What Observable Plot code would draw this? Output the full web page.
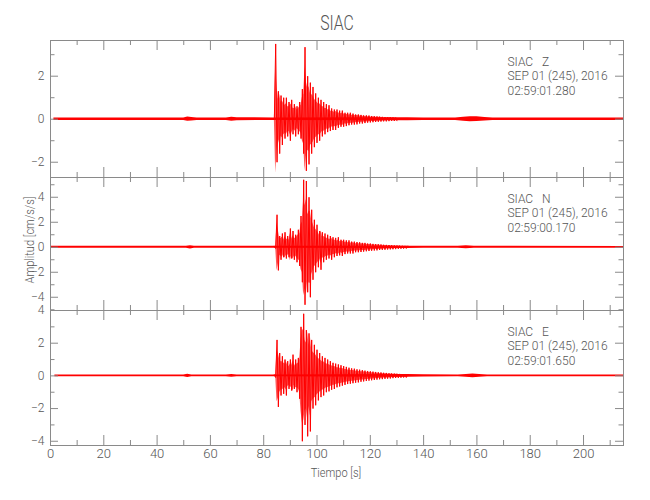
<!DOCTYPE html>
<html>
<head>
<meta charset="utf-8">
<script src="https://cdn.jsdelivr.net/npm/d3@7"></script>
<script src="https://cdn.jsdelivr.net/npm/@observablehq/plot@0.6"></script>
<style>
  body { margin: 0; background: #fff; }
  #chart { position: relative; width: 650px; height: 500px; overflow: hidden;
    font-family: Roboto, Lato, sans-serif; font-weight: 300; color: #555; }
  #chart svg { position: absolute; left: 0; top: 0; }
  .lbl { position: absolute; white-space: nowrap; color: #555; line-height: 1; }
</style>
</head>
<body>
<div id="chart"></div>
<script>
// ---------------- data ----------------
const title = "SIAC";
const xLabel = "Tiempo [s]";
const yLabel = "Amplitud [cm/s/s]";
const station = "SIAC";
const components = ["Z", "N", "E"];
const dateText = "SEP 01 (245), 2016";
const startTimes = ["02:59:01.280", "02:59:00.170", "02:59:01.650"];

const xMajorTicks = [0, 20, 40, 60, 80, 100, 120, 140, 160, 180, 200];
const xMinorTicks = [10, 30, 50, 70, 90, 110, 130, 150, 170, 190, 210];

const yMajorZ = [-2, 0, 2];
const yMinorZ = [-1, 1, 3];
const yMajorN = [-4, -2, 0, 2, 4];
const yMinorN = [-5, -3, -1, 1, 3, 5];
const yMajorE = [-4, -2, 0, 2, 4];
const yMinorE = [-3, -1, 1, 3];

// strong-motion part of each trace, sampled every 0.5 s from 84.0 s
const waveStart = 84.0;
const waveStep = 0.5;
const zWave = [0.06, 3.5, -2.0, 1.3, -1.6, 1.1, -1.2, 1.0, -0.9, 1.0, -0.8, 0.8, -1.0, 0.9, -0.7, 0.7, -0.8, 0.6, -0.7, 0.8,
  -0.9, 1.4, -1.6, 3.35, -2.4, 2.0, -2.1, 1.7, -1.6, 1.5, -1.3, 1.2, -1.1, 1.0, -1.0, 0.9, -0.8, 0.8, -0.7, 0.7,
  -0.6, 0.65, -0.55, 0.5, -0.5, 0.45, -0.5, 0.45, -0.4, 0.4, -0.35, 0.4, -0.35, 0.3, -0.32, 0.3, -0.28, 0.3, -0.25, 0.26,
  -0.25, 0.22, -0.24, 0.22, -0.2, 0.2, -0.2, 0.18, -0.18, 0.18, -0.16, 0.17, -0.15, 0.15, -0.14, 0.14, -0.13, 0.13, -0.12, 0.12,
  -0.11, 0.11, -0.1, 0.1, -0.1, 0.09, -0.09, 0.09, -0.08, 0.08, -0.08, 0.07, -0.07];
const nWave = [0.08, -0.1, 2.6, -1.85, 0.9, -1.0, 1.1, -0.8, 1.2, -0.9, 0.9, -0.8, 1.5, -0.9, 1.3, -1.0, 1.0, -1.2, 1.4, -1.5,
  2.5, -2.8, 5.4, -4.6, 5.3, -3.6, 4.0, -4.0, 3.0, -2.6, 2.2, -2.0, 1.8, -1.6, 1.3, -1.8, 1.2, -1.2, 1.1, -1.0,
  1.0, -0.9, 0.9, -1.0, 0.8, -0.8, 0.75, -0.7, 0.8, -0.65, 0.6, -0.7, 0.6, -0.55, 0.55, -0.5, 0.55, -0.5, 0.45, -0.5,
  0.45, -0.4, 0.42, -0.4, 0.4, -0.38, 0.35, -0.35, 0.35, -0.32, 0.3, -0.3, 0.3, -0.28, 0.27, -0.26, 0.25, -0.25, 0.24, -0.22,
  0.22, -0.21, 0.2, -0.2, 0.19, -0.18, 0.18, -0.17, 0.16, -0.16, 0.15, -0.15, 0.14, -0.13, 0.13, -0.12, 0.12, -0.11, 0.11, -0.1, 0.1];
const eWave = [0.06, -0.1, 2.2, -1.9, 1.4, -1.2, 1.2, -1.1, 1.0, -1.2, 0.9, -0.8, 1.0, -0.9, 1.3, -0.8, 1.0, -1.0, 1.1, -1.4,
  3.0, -4.0, 3.8, -3.0, 2.8, -3.7, 2.6, -3.4, 2.2, -2.0, 1.9, -1.8, 1.6, -1.5, 1.4, -1.3, 1.2, -1.2, 1.1, -1.0,
  1.0, -0.95, 0.9, -0.85, 0.8, -0.8, 0.75, -0.7, 0.7, -0.65, 0.65, -0.6, 0.6, -0.55, 0.55, -0.5, 0.5, -0.48, 0.46, -0.45,
  0.44, -0.42, 0.4, -0.4, 0.38, -0.36, 0.35, -0.34, 0.32, -0.31, 0.3, -0.29, 0.28, -0.27, 0.26, -0.25, 0.24, -0.23, 0.22, -0.21,
  0.21, -0.2, 0.19, -0.18, 0.18, -0.17, 0.16, -0.16, 0.15, -0.14, 0.14, -0.13, 0.13, -0.12, 0.12, -0.11, 0.11, -0.1, 0.1, -0.1, 0.09];

// background-noise envelope of each trace (time in s, half-amplitude)
const zNoiseT = [1.28, 50, 51.5, 53, 55, 66, 68, 70, 84, 134, 140, 152, 155, 157.5, 160, 163, 166, 215];
const zNoiseA = [0.06, 0.06, 0.1, 0.08, 0.06, 0.06, 0.09, 0.07, 0.06, 0.07, 0.06, 0.06, 0.09, 0.12, 0.11, 0.08, 0.06, 0.055];
const nNoiseT = [0.17, 51, 52.5, 54, 84, 134, 140, 153, 156, 159, 215];
const nNoiseA = [0.08, 0.08, 0.13, 0.08, 0.08, 0.09, 0.08, 0.08, 0.12, 0.08, 0.07];
const eNoiseT = [1.65, 50, 51.5, 53, 66, 68, 70, 84, 134, 140, 153, 156, 158.5, 161, 164, 215];
const eNoiseA = [0.06, 0.06, 0.1, 0.06, 0.06, 0.09, 0.06, 0.06, 0.08, 0.07, 0.06, 0.09, 0.11, 0.08, 0.06, 0.055];

// ---------------- layout ----------------
const W = 650, H = 500, mL = 50, mR = 27;
const xDomain = [0, 215];
const panels = [
  {wave: zWave, noiseT: zNoiseT, noiseA: zNoiseA, yDomain: [-2.71, 3.66], top: 40, bottom: 177, major: yMajorZ, minor: yMinorZ},
  {wave: nWave, noiseT: nNoiseT, noiseA: nNoiseA, yDomain: [-5.06, 5.58], top: 177, bottom: 310, major: yMajorN, minor: yMinorN},
  {wave: eWave, noiseT: eNoiseT, noiseA: eNoiseA, yDomain: [-4.26, 4.0], top: 310, bottom: 445, major: yMajorE, minor: yMinorE}
];
const axisColor = "#8a8a8a";
const textColor = "#555";
const red = "#ff0000";
const fontStack = 'Roboto, Lato, sans-serif';
const fmt = d => d < 0 ? "\u2212" + (-d) : String(d);

const chart = document.getElementById("chart");

panels.forEach((p, k) => {
  const fh = p.bottom - p.top;
  const fw = W - mL - mR;
  const noise = p.noiseT.map((t, i) => ({t, a: p.noiseA[i]}));
  const label = [`${station}   ${components[k]}\n${dateText}\n${startTimes[k]}`];
  const tx = (d, i) => waveStart + i * waveStep;
  const marks = [
    Plot.areaY(noise, {x: "t", y1: d => -d.a, y2: d => d.a, fill: red, clip: true}),
    Plot.areaY(p.wave, {x: tx, y1: d => -0.72 * Math.abs(d), y2: d => 0.72 * Math.abs(d), fill: red, fillOpacity: 0.65, clip: true}),
    Plot.line(p.wave, {x: tx, y: d => d, stroke: red, strokeWidth: 1, clip: true}),
    Plot.frame({stroke: axisColor}),
    // x ticks on top and bottom, pointing inward
    Plot.tickX(xMajorTicks, {x: d => d, insetBottom: fh - 10, stroke: axisColor}),
    Plot.tickX(xMinorTicks, {x: d => d, insetBottom: fh - 5, stroke: axisColor}),
    Plot.tickX(xMajorTicks, {x: d => d, insetTop: fh - 10, stroke: axisColor}),
    Plot.tickX(xMinorTicks, {x: d => d, insetTop: fh - 5, stroke: axisColor}),
    // y ticks on left and right, pointing inward
    Plot.tickY(p.major, {y: d => d, insetRight: fw - 8, stroke: axisColor}),
    Plot.tickY(p.minor, {y: d => d, insetRight: fw - 4.5, stroke: axisColor}),
    Plot.tickY(p.major, {y: d => d, insetLeft: fw - 8, stroke: axisColor}),
    Plot.tickY(p.minor, {y: d => d, insetLeft: fw - 4.5, stroke: axisColor}),
    Plot.axisY(p.major, {anchor: "left", tickSize: 0, tickPadding: 6, tickFormat: fmt, label: null, fontSize: 12, fill: textColor}),
    Plot.text(label, {frameAnchor: "top-right", dx: -116, dy: 15, textAnchor: "start", lineAnchor: "top",
      lineHeight: 1.2, fontSize: 12, fill: textColor})
  ];
  if (k === 2) {
    marks.push(Plot.axisX(xMajorTicks, {anchor: "bottom", tickSize: 0, tickPadding: 3, tickFormat: fmt, label: null, fontSize: 13, fill: textColor}));
  }
  const svg = Plot.plot({
    width: W, height: H,
    marginLeft: mL, marginRight: mR, marginTop: p.top, marginBottom: H - p.bottom,
    x: {domain: xDomain, axis: null},
    y: {domain: p.yDomain, axis: null},
    style: {background: "transparent", fontFamily: fontStack, fontWeight: 300, whiteSpace: "pre", color: textColor},
    marks
  });
  chart.appendChild(svg);
});

function addLabel(text, x, y, size, transform) {
  const d = document.createElement("div");
  d.className = "lbl";
  d.textContent = text;
  d.style.left = x + "px";
  d.style.top = y + "px";
  d.style.fontSize = size + "px";
  d.style.transform = "translate(-50%, -50%) " + transform;
  chart.appendChild(d);
}
addLabel(title, 337, 23, 21, "scaleX(0.75)");
addLabel(xLabel, 336, 472, 13, "scaleX(0.85)");
addLabel(yLabel, 29, 240, 13, "rotate(-90deg) scaleX(0.85)");
</script>
</body>
</html>
